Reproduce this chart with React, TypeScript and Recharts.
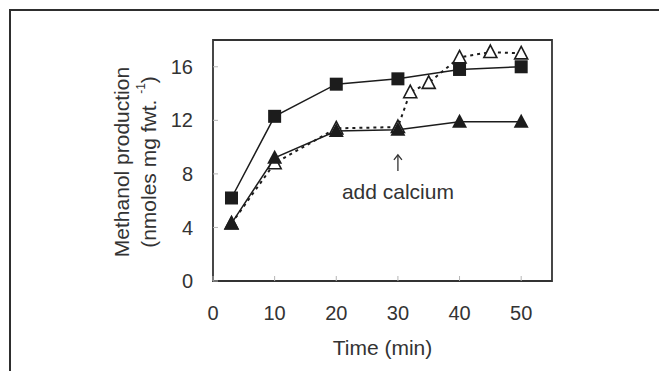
import { ComposedChart, Line, XAxis, YAxis, ReferenceArea, ReferenceDot } from "recharts"

const timeControl = [3, 10, 20, 30, 40, 50]
const squareValues = [6.2, 12.3, 14.7, 15.1, 15.8, 16.0]
const filledTriangleValues = [4.3, 9.2, 11.2, 11.3, 11.9, 11.9]
const timeCalcium = [3, 10, 20, 30, 32, 35, 40, 45, 50]
const openTriangleValues = [4.3, 8.8, 11.4, 11.5, 14.1, 14.8, 16.7, 17.1, 17.0]
const xTicks = [0, 10, 20, 30, 40, 50]
const yTicks = [0, 4, 8, 12, 16]
const calciumTime = 30
const calciumLabelLevel = 8
const calciumLabel = "add calcium"

const font = '"Liberation Sans", Arial, sans-serif'
const ink = "#1c1c1c"

const squareData = timeControl.map((t, i) => ({ t, v: squareValues[i] }))
const filledData = timeControl.map((t, i) => ({ t, v: filledTriangleValues[i] }))
const openData = timeCalcium.map((t, i) => ({ t, v: openTriangleValues[i] }))

function SquareDot(p: any) {
  if (p.cx == null || p.cy == null) return <g key={p.index} />
  return <rect key={p.index} x={p.cx - 6.5} y={p.cy - 6.5} width={13} height={13} fill={ink} />
}

function FilledTriangle(p: any) {
  if (p.cx == null || p.cy == null) return <g key={p.index} />
  const { cx, cy } = p
  return <path key={p.index} d={`M${cx},${cy - 8} L${cx + 7.5},${cy + 6} L${cx - 7.5},${cy + 6} Z`} fill={ink} />
}

function OpenTriangle(p: any) {
  if (p.cx == null || p.cy == null) return <g key={p.index} />
  const { cx, cy } = p
  return (
    <path key={p.index} d={`M${cx},${cy - 7} L${cx + 6.5},${cy + 5.5} L${cx - 6.5},${cy + 5.5} Z`}
      fill="#fff" stroke={ink} strokeWidth={1.6} />
  )
}

function CalciumNote(p: any) {
  const { cx, cy } = p
  return (
    <g>
      <line x1={cx} y1={cy - 3} x2={cx} y2={cy - 19} stroke="#333" strokeWidth={1.3} />
      <path d={`M${cx - 4},${cy - 14} L${cx},${cy - 19} L${cx + 4},${cy - 14}`} fill="none" stroke="#333" strokeWidth={1.3} />
      <text x={cx} y={cy + 18} textAnchor="middle" dominantBaseline="central"
        fontSize={21} fontFamily={font} fill="#333">{calciumLabel}</text>
    </g>
  )
}

function YTitle(props: any) {
  const cy = 162
  return (
    <g fontFamily={font} fontSize={21} fill="#333">
      <text x={121} y={cy} textAnchor="middle" dominantBaseline="central" transform={`rotate(-90, 121, ${cy})`}>
        Methanol production
      </text>
      <text x={148} y={cy} textAnchor="middle" dominantBaseline="central" transform={`rotate(-90, 148, ${cy})`}>
        (nmoles mg fwt. <tspan fontSize={12} dy={-7}>-1</tspan><tspan dy={7}>)</tspan>
      </text>
    </g>
  )
}

function XTitle(props: any) {
  const vb = props.viewBox
  return (
    <text x={vb.x + vb.width / 2} y={vb.y + 66} textAnchor="middle" dominantBaseline="central"
      fontFamily={font} fontSize={21} fill="#333">Time (min)</text>
  )
}

export default function App() {
  const tick = { fontSize: 20, fill: "#333", fontFamily: font }
  return (
    <div style={{ position: "absolute", left: 0, top: 0, width: 659, height: 371, overflow: "hidden", background: "#fff" }}>
      <div style={{
        position: "absolute", left: 9, top: 9, width: 700, height: 400,
        borderTop: "2px solid #2e2e2e", borderLeft: "2px solid #2e2e2e",
      }} />
      <div style={{ position: "absolute", left: 0, top: 0 }}>
        <ComposedChart width={659} height={371} margin={{ top: 40, right: 107, bottom: 10, left: 0 }}>
          <XAxis dataKey="t" type="number" domain={[0, 55]} ticks={xTicks} allowDataOverflow
            height={80} tickSize={-5} tickMargin={30} axisLine={false}
            tickLine={{ stroke: "#b5b5b5" }} tick={tick} label={<XTitle />} />
          <YAxis type="number" domain={[0, 18]} ticks={yTicks} allowDataOverflow
            width={213} tickSize={-5} tickMargin={25} axisLine={false}
            tickLine={{ stroke: "#b5b5b5" }} tick={tick} label={<YTitle />} />
          <ReferenceArea x1={0} x2={55} y1={0} y2={18} fill="none" stroke="#333" strokeWidth={1.8} fillOpacity={0} />
          <Line data={openData} dataKey="v" stroke={ink} strokeWidth={2} strokeDasharray="3 4"
            dot={OpenTriangle} activeDot={false} isAnimationActive={false} />
          <Line data={squareData} dataKey="v" stroke={ink} strokeWidth={1.5}
            dot={SquareDot} activeDot={false} isAnimationActive={false} />
          <Line data={filledData} dataKey="v" stroke={ink} strokeWidth={1.5}
            dot={FilledTriangle} activeDot={false} isAnimationActive={false} />
          <ReferenceDot x={calciumTime} y={calciumLabelLevel} r={0} shape={CalciumNote} />
        </ComposedChart>
      </div>
    </div>
  )
}
